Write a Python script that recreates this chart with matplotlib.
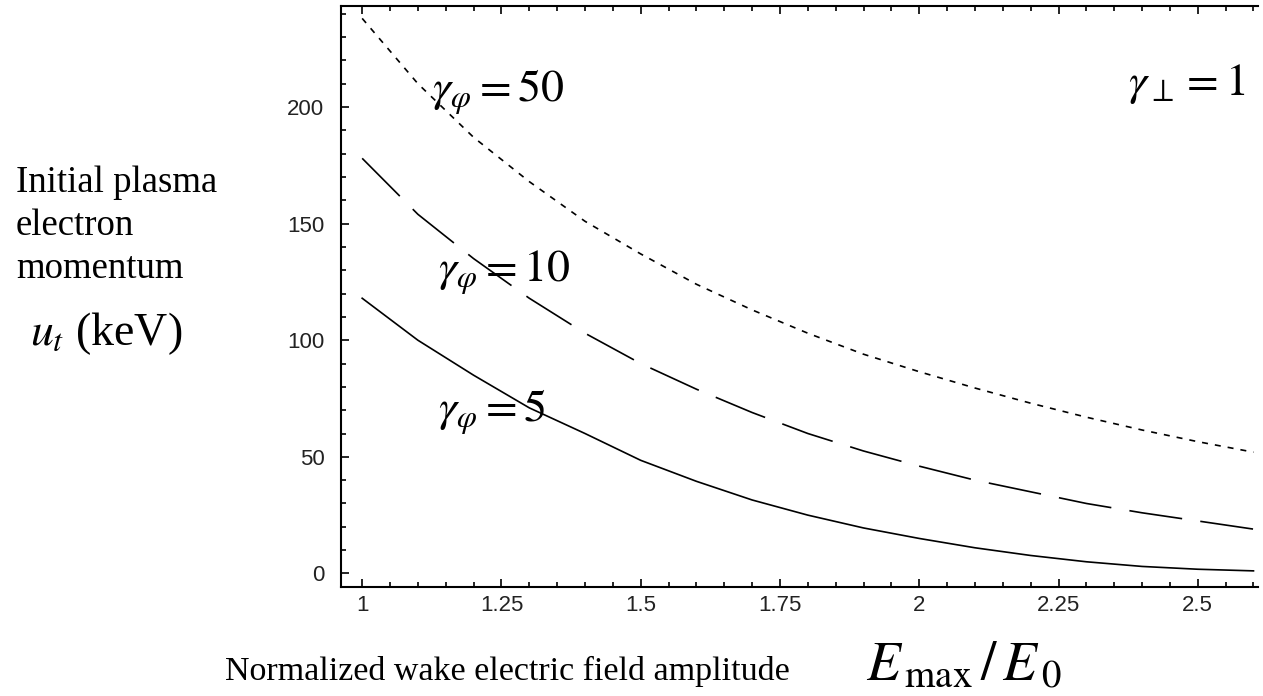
import numpy as np
import matplotlib
matplotlib.use("Agg")
import matplotlib.pyplot as plt
from matplotlib.ticker import MultipleLocator, FixedLocator

# values
e_ratio = [1.0, 1.1, 1.2, 1.3, 1.4, 1.5, 1.6, 1.7, 1.8, 1.9,
           2.0, 2.1, 2.2, 2.3, 2.4, 2.5, 2.6]
u_gamma5 = [118, 100, 85, 71, 60, 48.5, 39.5, 31.5, 25, 19.5,
            15, 11, 7.7, 5, 3, 1.8, 1.1]
u_gamma10 = [178, 154, 135, 118, 103, 90, 79, 69, 60, 52.5,
             46, 40, 35, 30, 26, 22.5, 19]
u_gamma50 = [238, 210, 187, 168, 151, 137, 124, 113, 103, 94,
             86.5, 79.5, 73, 67, 61.5, 56.5, 52]

xticks = [1, 1.25, 1.5, 1.75, 2, 2.25, 2.5]
xticklabels = ['1', '1.25', '1.5', '1.75', '2', '2.25', '2.5']
yticks = [0, 50, 100, 150, 200]

plt.rcParams['mathtext.fontset'] = 'stix'
serif = 'Liberation Serif'
W, H = 1263, 696

fig = plt.figure(figsize=(W / 100, H / 100), dpi=100)
ax = fig.add_axes([0.270, 0.157, 0.726, 0.834])

ax.plot(e_ratio, u_gamma5, color='black', lw=1.2, ls='-')
ax.plot(e_ratio, u_gamma10, color='black', lw=1.2, ls=(0, (32, 11)))
ax.plot(e_ratio, u_gamma50, color='black', lw=1.2, ls=(0, (3.6, 4.2)))

ax.set_xlim(0.962, 2.608)
ax.set_ylim(-5.7, 243.2)

ax.xaxis.set_major_locator(FixedLocator(xticks))
ax.set_xticklabels(xticklabels)
ax.xaxis.set_minor_locator(MultipleLocator(0.05))
ax.yaxis.set_major_locator(FixedLocator(yticks))
ax.yaxis.set_minor_locator(MultipleLocator(10))

ax.spines['right'].set_visible(False)
for s in ['left', 'bottom', 'top']:
    ax.spines[s].set_linewidth(1.5)

ax.tick_params(which='both', direction='in', top=True, right=False,
               width=1.2, colors='black')
ax.tick_params(which='major', length=6)
ax.tick_params(which='minor', length=3.5)
ax.tick_params(axis='x', pad=6)
ax.tick_params(axis='y', pad=12)
for lab in ax.get_xticklabels() + ax.get_yticklabels():
    lab.set_family('Liberation Sans')
    lab.set_fontsize(16)
    lab.set_color('#222222')

# curve labels
ax.text(1.125, 202, r'$\gamma_{\varphi} = 50$', fontsize=33, va='baseline')
ax.text(1.136, 125, r'$\gamma_{\varphi} = 10$', fontsize=33, va='baseline')
ax.text(1.136, 65, r'$\gamma_{\varphi} = 5$', fontsize=33, va='baseline')
ax.text(2.375, 205, r'$\gamma_{\perp} = 1$', fontsize=33, va='baseline')

# y axis label, one line at a time
ylab_lines = ['Initial plasma', 'electron', 'momentum']
for i, line in enumerate(ylab_lines):
    fig.text(16 / W, 1 - (192 + 43 * i) / H, line, family=serif,
             fontsize=26.5, va='baseline', ha='left')
fig.text(30 / W, 1 - 345 / H, r'$u_t$ (keV)', family=serif, fontsize=33,
         va='baseline', ha='left')

# x axis label
fig.text(225 / W, 1 - 680 / H, 'Normalized wake electric field amplitude',
         family=serif, fontsize=24.5, va='baseline', ha='left')
fig.text(866 / W, 1 - 680 / H, r'$E_{\,\mathrm{max}}\,/\,E_{\,0}$',
         fontsize=40, va='baseline', ha='left')

fig.savefig('out.png', dpi=100)
